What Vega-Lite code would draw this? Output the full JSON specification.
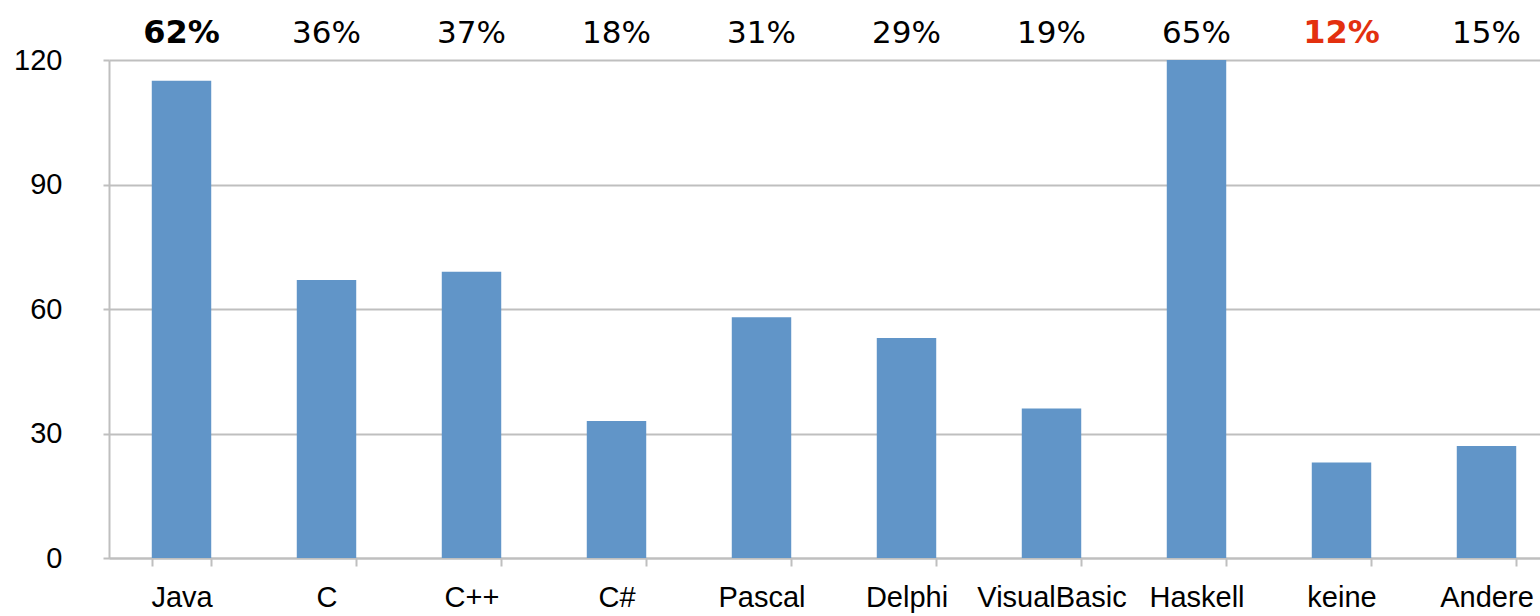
{
  "$schema": "https://vega.github.io/schema/vega-lite/v6.json",
  "width": 1431,
  "height": 498,
  "autosize": {"type": "none"},
  "padding": {"left": 109, "top": 60, "right": 0, "bottom": 58},
  "background": "white",
  "config": {"view": {"stroke": null}},
  "data": {"values": [
    {"lang": "Java", "count": 115, "pct": "62%"},
    {"lang": "C", "count": 67, "pct": "36%"},
    {"lang": "C++", "count": 69, "pct": "37%"},
    {"lang": "C#", "count": 33, "pct": "18%"},
    {"lang": "Pascal", "count": 58, "pct": "31%"},
    {"lang": "Delphi", "count": 53, "pct": "29%"},
    {"lang": "VisualBasic", "count": 36, "pct": "19%"},
    {"lang": "Haskell", "count": 120, "pct": "65%"},
    {"lang": "keine", "count": 23, "pct": "12%"},
    {"lang": "Andere", "count": 27, "pct": "15%"}
  ]},
  "encoding": {
    "x": {
      "field": "lang", "type": "nominal", "sort": null,
      "scale": {"range": [0, 1450], "paddingInner": 0.59, "paddingOuter": 0.295},
      "axis": {
        "title": null, "labelAngle": 0, "labelFont": "Liberation Sans", "labelFontSize": 29,
        "labelColor": "#000", "labelPadding": 17, "labelBaseline": "top",
        "domainColor": "#bfbfbf", "domainWidth": 2, "tickColor": "#bfbfbf", "tickWidth": 2,
        "tickSize": 8, "tickBand": "extent", "grid": false
      }
    }
  },
  "layer": [
    {
      "mark": {"type": "bar", "color": "#6195c8", "clip": false},
      "encoding": {
        "y": {
          "field": "count", "type": "quantitative",
          "scale": {"domain": [0, 120], "nice": false},
          "axis": {
            "title": null, "values": [0, 30, 60, 90, 120], "labelFont": "Liberation Sans",
            "labelFontSize": 29, "labelColor": "#000", "labelPadding": 41,
            "domainColor": "#bfbfbf", "domainWidth": 2, "tickColor": "#bfbfbf", "tickWidth": 2,
            "tickSize": 6, "gridColor": "#bfbfbf", "gridWidth": 2
          }
        }
      }
    },
    {
      "transform": [{"filter": "datum.lang !== 'Java' && datum.lang !== 'keine'"}],
      "mark": {"type": "text", "font": "DejaVu Sans", "fontSize": 31, "baseline": "alphabetic", "dy": -17, "color": "#000", "clip": false},
      "encoding": {"y": {"datum": 120, "type": "quantitative"}, "text": {"field": "pct"}}
    },
    {
      "transform": [{"filter": "datum.lang === 'Java'"}],
      "mark": {"type": "text", "font": "DejaVu Sans", "fontSize": 32, "fontWeight": "bold", "baseline": "alphabetic", "dy": -17, "color": "#000"},
      "encoding": {"y": {"datum": 120, "type": "quantitative"}, "text": {"field": "pct"}}
    },
    {
      "transform": [{"filter": "datum.lang === 'keine'"}],
      "mark": {"type": "text", "font": "DejaVu Sans", "fontSize": 32, "fontWeight": "bold", "baseline": "alphabetic", "dy": -17, "color": "#e3300f"},
      "encoding": {"y": {"datum": 120, "type": "quantitative"}, "text": {"field": "pct"}}
    }
  ]
}
